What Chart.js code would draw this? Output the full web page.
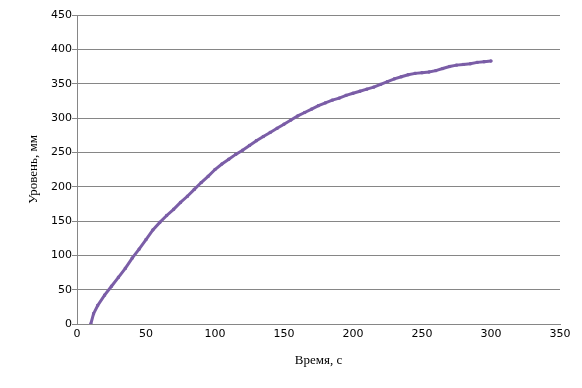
<!DOCTYPE html>
<html>
<head>
<meta charset="utf-8">
<script src="https://cdn.jsdelivr.net/npm/chart.js@4"></script>
<style>
  html, body { margin: 0; padding: 0; background: #fff; }
  #wrap { width: 582px; height: 388px; }
</style>
</head>
<body>
<div id="wrap"><canvas id="myChart" width="582" height="388"></canvas></div>
<script>
'use strict';

// time, s
let timeArray = [10, 12, 15, 20, 25, 30, 35, 40, 45, 50, 55, 60, 65, 70, 75, 80, 85, 90, 95,
  100, 105, 110, 115, 120, 125, 130, 135, 140, 145, 150, 155, 160, 165, 170, 175, 180,
  185, 190, 195, 200, 205, 210, 215, 220, 225, 230, 235, 240, 245, 250, 255, 260, 265,
  270, 275, 280, 285, 290, 295, 300];
// level, mm
let levelArray = [0, 15, 27, 42, 55, 68, 81, 96, 109, 123, 137, 148, 158, 167, 177, 186,
  196, 206, 215, 225, 233, 240, 247, 253, 260, 267, 273, 279, 285, 291, 297, 303, 308,
  313, 318, 322, 326, 329, 333, 336, 339, 342, 345, 349, 353, 357, 360, 363, 365, 366,
  367, 369, 372, 375, 377, 378, 379, 381, 382, 383];

let xTicks = [0, 50, 100, 150, 200, 250, 300, 350];
let yTicks = [0, 50, 100, 150, 200, 250, 300, 350, 400, 450];

let points = timeArray.map((t, i) => ({ x: t, y: levelArray[i] }));

let ctx = document.getElementById('myChart').getContext('2d');
let myChart = new Chart(ctx, { //eslint-disable-line
  type: 'scatter',
  data: {
    datasets: [{
      data: points,
      showLine: true,
      borderColor: '#7b5ea7',
      backgroundColor: '#7b5ea7',
      borderWidth: 3,
      pointStyle: 'rect',
      pointRadius: 1.5,
      pointBorderWidth: 1,
      tension: 0
    }]
  },
  options: {
    responsive: false,
    animation: false,
    layout: { padding: { top: 15, right: 22, left: 0, bottom: 0 } },
    plugins: { legend: { display: false }, tooltip: { enabled: false } },
    scales: {
      x: {
        type: 'linear',
        min: 0,
        max: 350,
        afterBuildTicks: s => { s.ticks = xTicks.map(v => ({ value: v })); },
        afterFit: s => { s.height = 64; },
        grid: { display: false, drawTicks: false },
        border: { color: '#868686', width: 1 },
        ticks: { color: '#000', font: { family: 'DejaVu Sans', size: 11 }, padding: 4 },
        title: {
          display: true,
          text: 'Время, с',
          color: '#000',
          font: { family: 'Liberation Serif', size: 13 },
          padding: { top: 0, bottom: 20 }
        }
      },
      y: {
        min: 0,
        max: 450,
        afterBuildTicks: s => { s.ticks = yTicks.map(v => ({ value: v })); },
        afterFit: s => { s.width = 77; },
        grid: { color: '#868686', lineWidth: 1, drawTicks: true, tickLength: 5 },
        border: { color: '#868686', width: 1 },
        ticks: { color: '#000', font: { family: 'DejaVu Sans', size: 11 }, padding: 0 },
        title: {
          display: true,
          text: 'Уровень, мм',
          color: '#000',
          font: { family: 'Liberation Serif', size: 13 },
          padding: { top: 26, bottom: 0 }
        }
      }
    }
  }
});
</script>
</body>
</html>
